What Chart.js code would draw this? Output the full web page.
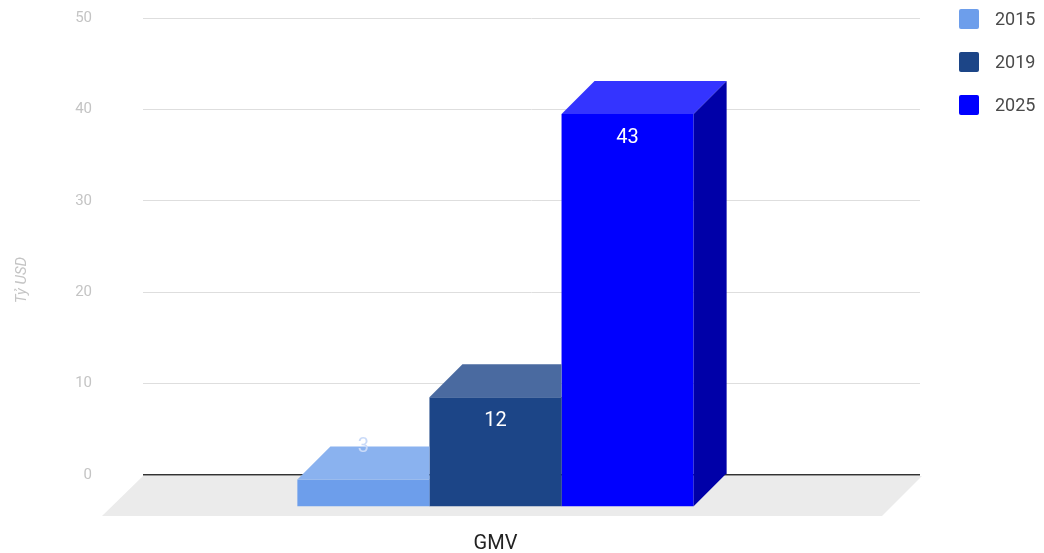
<!DOCTYPE html>
<html>
<head>
<meta charset="utf-8">
<script src="https://cdn.jsdelivr.net/npm/chart.js@4"></script>
<style>
    html, body { margin: 0; padding: 0; background: #fff; }
    #wrap { width: 1044px; height: 553px; position: relative; }
</style>
</head>
<body>
<div id="wrap"><canvas id="gmv-chart"></canvas></div>
<script>
// data
const categories = ['GMV'];
const seriesNames = ['2015', '2019', '2025'];
const values2015 = [3];
const values2019 = [12];
const values2025 = [43];
const yMin = 0, yMax = 50, yStep = 10;

// styles
const frontColors = ['#6d9eeb', '#1c4587', '#0000ff'];
const topColors = ['#8ab2ef', '#4a6aa0', '#3434ff'];
const sideColors = ['#4f7fc8', '#132f5e', '#0000a8'];
const outsideLabelColors = ['#c9daf8', '#c9daf8', '#c9daf8'];
const depth = 33;          // size of the 3d top / side faces
const shiftX = -36, shiftY = 32;   // front plane offset from the back wall

const font = 'Roboto';

function frontRect(bar) {
    const p = bar.getProps(['x', 'y', 'base', 'width'], true);
    return {
        l: p.x - p.width / 2, r: p.x + p.width / 2,
        top: Math.min(p.y, p.base), bottom: Math.max(p.y, p.base)
    };
}

const bars3d = {
    id: 'bars3d',
    beforeDraw(chart) {
        // grey floor under the bars
        const ctx = chart.ctx;
        const a = chart.chartArea;
        const y0 = chart.scales.y.getPixelForValue(0);
        ctx.save();
        ctx.fillStyle = '#ebebeb';
        ctx.beginPath();
        ctx.moveTo(a.left, y0 + 1);
        ctx.lineTo(a.right + 2, y0 + 1);
        ctx.lineTo(a.right - 38, y0 + 41);
        ctx.lineTo(a.left - 41, y0 + 41);
        ctx.closePath();
        ctx.fill();
        ctx.restore();
    },
    beforeDatasetsDraw(chart) {
        chart.ctx.save();
        chart.ctx.translate(shiftX, shiftY);
    },
    afterDatasetDraw(chart, args) {
        // datasets are painted right to left, so keep the faces
        // behind the fronts that are already there
        const ctx = chart.ctx;
        const i = args.index;
        ctx.save();
        ctx.beginPath();
        ctx.rect(-2000, -2000, 6000, 6000);
        for (let k = i + 1; k < chart.data.datasets.length; k++) {
            chart.getDatasetMeta(k).data.forEach(bar => {
                const f = frontRect(bar);
                ctx.rect(f.l, f.top, f.r - f.l, f.bottom - f.top);
            });
        }
        ctx.clip('evenodd');
        args.meta.data.forEach(bar => {
            const f = frontRect(bar);
            // top face
            ctx.fillStyle = topColors[i];
            ctx.beginPath();
            ctx.moveTo(f.l, f.top);
            ctx.lineTo(f.r, f.top);
            ctx.lineTo(f.r + depth, f.top - depth);
            ctx.lineTo(f.l + depth, f.top - depth);
            ctx.closePath();
            ctx.fill();
            // right side face
            ctx.fillStyle = sideColors[i];
            ctx.beginPath();
            ctx.moveTo(f.r, f.top);
            ctx.lineTo(f.r + depth, f.top - depth);
            ctx.lineTo(f.r + depth, f.bottom - depth);
            ctx.lineTo(f.r, f.bottom);
            ctx.closePath();
            ctx.fill();
        });
        ctx.restore();
    },
    afterDatasetsDraw(chart) {
        const ctx = chart.ctx;
        // value labels, still in the front plane
        ctx.font = '20px ' + font;
        ctx.textAlign = 'center';
        ctx.textBaseline = 'middle';
        chart.data.datasets.forEach((ds, i) => {
            const meta = chart.getDatasetMeta(i);
            meta.data.forEach((bar, j) => {
                const p = bar.getProps(['x', 'y', 'base'], true);
                const h = Math.abs(p.base - p.y);
                const v = ds.data[j];
                if (h >= 45) {
                    ctx.fillStyle = '#ffffff';
                    ctx.fillText(v, p.x, p.y + 24);
                } else {
                    ctx.fillStyle = outsideLabelColors[i];
                    ctx.fillText(v, p.x, p.y - depth);
                }
            });
        });
        ctx.restore();
    },
    afterDraw(chart) {
        const ctx = chart.ctx;
        ctx.save();
        // y axis title
        ctx.translate(22, 280);
        ctx.rotate(-Math.PI / 2);
        ctx.font = 'italic 15px ' + font;
        ctx.fillStyle = '#c4c4c4';
        ctx.textAlign = 'center';
        ctx.textBaseline = 'middle';
        ctx.fillText('Tỷ USD', 0, 0);
        ctx.restore();

        // legend
        ctx.save();
        ctx.font = '18px ' + font;
        ctx.textBaseline = 'middle';
        ctx.textAlign = 'left';
        chart.data.datasets.forEach((ds, i) => {
            const cy = 19 + i * 43;
            ctx.fillStyle = ds.backgroundColor;
            ctx.beginPath();
            ctx.roundRect(959, cy - 10, 20, 20, 2);
            ctx.fill();
            ctx.fillStyle = '#4a4a4a';
            ctx.fillText(ds.label, 995, cy + 1);
        });
        ctx.restore();
    }
};

const seriesValues = [values2015, values2019, values2025];

const chart = new Chart(document.getElementById('gmv-chart'), {
    type: 'bar',
    data: {
        labels: categories,
        datasets: seriesNames.map((name, i) => ({
            label: name,
            data: seriesValues[i],
            backgroundColor: frontColors[i],
            borderWidth: 0,
            barPercentage: 1,
            categoryPercentage: 0.51,
            clip: false
        }))
    },
    options: {
        responsive: true,
        maintainAspectRatio: false,
        animation: false,
        layout: { padding: { top: 18, right: 124, bottom: 0, left: 0 } },
        plugins: {
            legend: { display: false },
            tooltip: { enabled: false }
        },
        scales: {
            x: {
                grid: { display: false },
                border: { display: false },
                ticks: {
                    font: { family: font, size: 20 },
                    color: '#222222',
                    padding: 49,
                    labelOffset: shiftX
                },
                afterFit(scale) { scale.height = 78; }
            },
            y: {
                min: yMin,
                max: yMax,
                border: { display: false },
                grid: {
                    drawTicks: true,
                    tickLength: 45,
                    tickColor: 'rgba(0,0,0,0)',
                    color: c => c.tick && c.tick.value === 0 ? '#333333' : '#dedede',
                    lineWidth: c => c.tick && c.tick.value === 0 ? 1.5 : 1
                },
                ticks: {
                    stepSize: yStep,
                    font: { family: font, size: 15 },
                    color: '#c4c4c4',
                    padding: 6
                },
                afterFit(scale) { scale.width = 143; }
            }
        }
    },
    plugins: [bars3d]
});
</script>
</body>
</html>
